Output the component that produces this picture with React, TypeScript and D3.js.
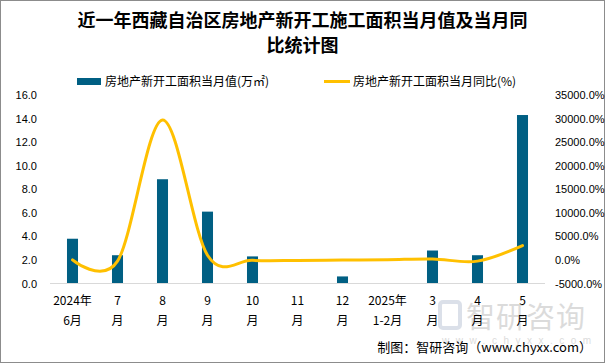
import React from 'react';
import * as d3 from 'd3';

const categories = ['2024年\n6月', '7\n月', '8\n月', '9\n月', '10\n月', '11\n月', '12\n月', '2025年\n1-2月', '3\n月', '4\n月', '5\n月'];
const monthValues = [3.8, 2.4, 8.85, 6.1, 2.3, 0, 0.6, 0, 2.8, 2.4, 14.3];
const yoyValues = [0, -250, 29700, 1000, -80, -100, -20, 50, 200, -250, 3050];
const leftTicks = [0, 2, 4, 6, 8, 10, 12, 14, 16];
const rightTicks = [-5000, 0, 5000, 10000, 15000, 20000, 25000, 30000, 35000];

const W = 605;
const H = 363;
const BAR = '#005f83';
const LINE = '#ffc000';
const CJK = '"Noto Sans CJK SC", "Liberation Sans", sans-serif';
const NUM = '"Liberation Sans", "Noto Sans CJK SC", sans-serif';

const App: React.FC = () => {
  const x = d3.scaleBand<string>().domain(categories).range([50, 545]).padding(0);
  const yL = d3.scaleLinear().domain([0, 16]).range([283.5, 95]);
  const yR = d3.scaleLinear().domain([-5000, 35000]).range([283.5, 95]);
  const barW = x.bandwidth() * 0.245;
  const cx = (c: string) => (x(c) ?? 0) + x.bandwidth() / 2;

  const line = d3
    .line<number>()
    .x((_, i) => cx(categories[i]))
    .y((d) => yR(d))
    .curve(d3.curveCardinal.tension(0));

  return (
    <svg
      width={W}
      height={H}
      style={{ position: 'absolute', left: 0, top: 0, background: '#fff' }}
    >
      <rect x={0.5} y={0.5} width={W - 1} height={H - 1} fill="none" stroke="#8c8c8c" />

      <text x={W / 2} y={27} textAnchor="middle" fontFamily={CJK} fontSize={18} fontWeight="bold" fill="#000">
        近一年西藏自治区房地产新开工施工面积当月值及当月同
      </text>
      <text x={W / 2} y={52} textAnchor="middle" fontFamily={CJK} fontSize={18} fontWeight="bold" fill="#000">
        比统计图
      </text>

      {/* legend */}
      <rect x={77} y={78} width={24} height={7} fill={BAR} />
      <text x={105} y={85.5} fontFamily={CJK} fontSize={12} fill="#000">房地产新开工面积当月值(万㎡)</text>
      <line x1={324} x2={350} y1={81.5} y2={81.5} stroke={LINE} strokeWidth={3} />
      <text x={353} y={85.5} fontFamily={CJK} fontSize={12} fill="#000">房地产新开工面积当月同比(%)</text>

      {/* watermark */}
      <g opacity={0.35}>
        <rect x={440} y={302} width={20} height={26} rx={3} fill="none" stroke="#9aa9c2" strokeWidth={4} />
        <text x={466} y={328} fontFamily={CJK} fontSize={29} fill="#9a9a9a" letterSpacing={1}>智研咨询</text>
        <text x={442} y={344} fontFamily={NUM} fontSize={10} fill="#9a9a9a" letterSpacing={6.5}>www.chyxx.com</text>
      </g>

      {/* left axis labels */}
      {leftTicks.map((t) => (
        <text key={t} x={37} y={yL(t) + 4} textAnchor="end" fontFamily={NUM} fontSize={11} fill="#000">
          {t.toFixed(1)}
        </text>
      ))}
      {/* right axis labels */}
      {rightTicks.map((t) => (
        <text key={t} x={555} y={yR(t) + 4} textAnchor="start" fontFamily={NUM} fontSize={11} fill="#000">
          {t.toFixed(1)}%
        </text>
      ))}

      {/* bars */}
      {monthValues.map((v, i) => (
        <rect
          key={categories[i]}
          x={cx(categories[i]) - barW / 2}
          y={yL(v)}
          width={barW}
          height={yL(0) - yL(v)}
          fill={BAR}
        />
      ))}

      <line x1={50} x2={545} y1={yL(0)} y2={yL(0)} stroke="#d9d9d9" strokeWidth={1} />

      <path d={line(yoyValues) ?? ''} fill="none" stroke={LINE} strokeWidth={3} strokeLinecap="round" />

      {/* x labels */}
      {categories.map((c) => {
        const parts = c.split('\n');
        return (
          <text key={c} textAnchor="middle" fontFamily={CJK} fontSize={12} fill="#000">
            {parts.map((p, j) => (
              <tspan key={j} x={cx(c)} y={305 + j * 20}>
                {p}
              </tspan>
            ))}
          </text>
        );
      })}

      <text x={592} y={352} textAnchor="end" fontFamily={CJK} fontSize={13} fill="#000">
        制图：智研咨询（www.chyxx.com）
      </text>
    </svg>
  );
};

export default App;
